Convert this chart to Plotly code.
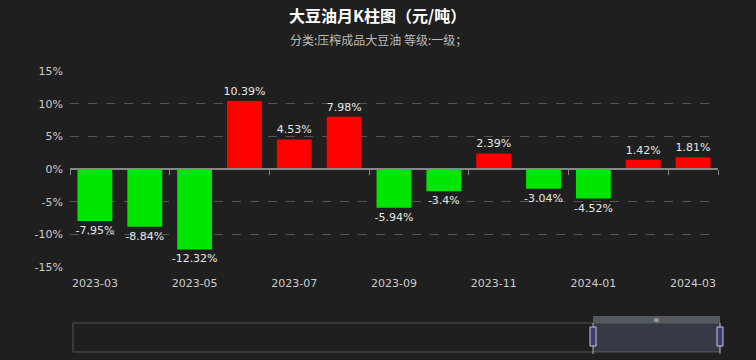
import plotly.graph_objects as go

months = ["2023-03", "2023-04", "2023-05", "2023-06", "2023-07", "2023-08", "2023-09",
          "2023-10", "2023-11", "2023-12", "2024-01", "2024-02", "2024-03"]
values = [-7.95, -8.84, -12.32, 10.39, 4.53, 7.98, -5.94, -3.4, 2.39, -3.04, -4.52, 1.42, 1.81]
y_ticks = [-15, -10, -5, 0, 5, 10, 15]

BG = "#1f1f1f"
W, H = 756, 360
L, R, T, B = 70, 38, 71, 93
PW, PH = W - L - R, H - T - B

def px(x):
    return (x - L) / PW

def py(y):
    return (H - B - y) / PH

idx = list(range(len(months)))
colors = ["#ff0000" if v >= 0 else "#00e600" for v in values]
texts = [("%g" % v) + "%" for v in values]

fig = go.Figure()
fig.add_trace(go.Bar(
    x=idx, y=values, marker=dict(color=colors, line=dict(width=0)),
    width=0.7, text=texts, textposition="outside", cliponaxis=False,
    constraintext="none",
    textfont=dict(color="#e6e6e6", size=11, family="DejaVu Sans"),
    hoverinfo="skip",
))
# invisible trace for the tick axis at y=0
fig.add_trace(go.Scatter(x=[-0.5, len(months) - 0.5], y=[0, 0], xaxis="x2",
                         mode="lines", line=dict(width=0), hoverinfo="skip", showlegend=False))

fig.update_layout(
    width=W, height=H, margin=dict(l=L, r=R, t=T, b=B),
    paper_bgcolor=BG, plot_bgcolor=BG, showlegend=False,
    font=dict(family="DejaVu Sans", color="#cccccc", size=11),
    bargap=0.3,
    xaxis=dict(range=[-0.5, len(months) - 0.5], tickvals=idx[::2], ticktext=months[::2],
               showgrid=False, zeroline=False, showline=False, ticks="", ticklabelstandoff=8,
               tickfont=dict(size=11, color="#cccccc"), fixedrange=True),
    xaxis2=dict(range=[-0.5, len(months) - 0.5], overlaying="x", anchor="free", position=0.5,
                tickvals=[i - 0.5 for i in range(0, len(months) + 1, 2)] + [len(months) - 0.5],
                showticklabels=False, ticks="outside", ticklen=5, tickcolor="#888888",
                showline=True, linecolor="#888888", linewidth=2, showgrid=False, zeroline=False),
    yaxis=dict(range=[-15, 15], tickvals=y_ticks, ticktext=[f"{t}%" for t in y_ticks],
               showgrid=True, gridcolor="#555555", griddash="dash", gridwidth=1,
               zeroline=False, showline=False, ticks="", ticklabelstandoff=6,
               tickfont=dict(size=11, color="#cccccc"), fixedrange=True),
)

fig.add_annotation(text="<b>大豆油月K柱图（元/吨）</b>", xref="paper", yref="paper",
                   x=px(377), y=py(15), xanchor="center", yanchor="middle", showarrow=False,
                   font=dict(size=16, color="#ffffff", family="Noto Sans CJK SC"))
fig.add_annotation(text="分类:压榨成品大豆油 等级:一级；", xref="paper", yref="paper",
                   x=px(378), y=py(39), xanchor="center", yanchor="middle", showarrow=False,
                   font=dict(size=12, color="#bbbbbb", family="Noto Sans CJK SC"))

# data-zoom slider decoration
shapes = []
shapes.append(dict(type="rect", xref="paper", yref="paper", x0=px(73), x1=px(720),
                   y0=py(352), y1=py(323), line=dict(color="#555555", width=1),
                   fillcolor="rgba(0,0,0,0)", layer="above"))
shapes.append(dict(type="rect", xref="paper", yref="paper", x0=px(593), x1=px(720),
                   y0=py(352), y1=py(323), line=dict(width=0),
                   fillcolor="rgba(110,130,165,0.28)", layer="above"))
shapes.append(dict(type="rect", xref="paper", yref="paper", x0=px(593), x1=px(720),
                   y0=py(323), y1=py(316), line=dict(width=0),
                   fillcolor="#555a60", layer="above"))
for hx in (593, 720):
    shapes.append(dict(type="line", xref="paper", yref="paper", x0=px(hx), x1=px(hx),
                       y0=py(354), y1=py(323), line=dict(color="#aab", width=1), layer="above"))
    shapes.append(dict(type="rect", xref="paper", yref="paper", x0=px(hx - 3), x1=px(hx + 3),
                       y0=py(346), y1=py(327), line=dict(color="#c8c8e0", width=1),
                       fillcolor="#3c3c70", layer="above"))
fig.update_layout(shapes=shapes)
fig.add_annotation(text="III", xref="paper", yref="paper", x=px(656), y=py(319.5),
                   xanchor="center", yanchor="middle", showarrow=False,
                   font=dict(size=5, color="#ffffff"))

fig.write_html("out.html")
